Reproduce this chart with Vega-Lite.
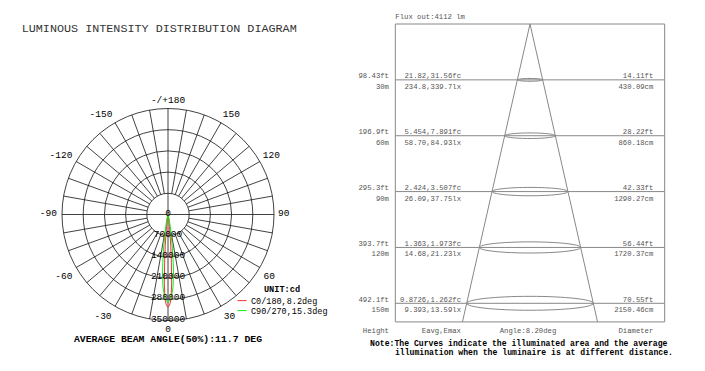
{
  "$schema": "https://vega.github.io/schema/vega-lite/v6.json",
  "width": 705,
  "height": 371,
  "padding": 0,
  "autosize": {"type": "none"},
  "background": "white",
  "config": {
    "view": {"stroke": null},
    "axis": {"disable": true},
    "text": {"font": "Liberation Mono"}
  },
  "datasets": {
    "spokes": [
      {"x1": 12155, "y1": -68937, "x2": 60777, "y2": -344683},
      {"x1": 23941, "y1": -65779, "x2": 119707, "y2": -328893},
      {"x1": 35000, "y1": -60622, "x2": 175000, "y2": -303109},
      {"x1": 44995, "y1": -53623, "x2": 224976, "y2": -268115},
      {"x1": 53623, "y1": -44995, "x2": 268115, "y2": -224976},
      {"x1": 60622, "y1": -35000, "x2": 303109, "y2": -175000},
      {"x1": 65779, "y1": -23941, "x2": 328893, "y2": -119707},
      {"x1": 68937, "y1": -12155, "x2": 344683, "y2": -60777},
      {"x1": 68937, "y1": 12155, "x2": 344683, "y2": 60777},
      {"x1": 65779, "y1": 23941, "x2": 328893, "y2": 119707},
      {"x1": 60622, "y1": 35000, "x2": 303109, "y2": 175000},
      {"x1": 53623, "y1": 44995, "x2": 268115, "y2": 224976},
      {"x1": 44995, "y1": 53623, "x2": 224976, "y2": 268115},
      {"x1": 35000, "y1": 60622, "x2": 175000, "y2": 303109},
      {"x1": 23941, "y1": 65779, "x2": 119707, "y2": 328893},
      {"x1": 12155, "y1": 68937, "x2": 60777, "y2": 344683},
      {"x1": -12155, "y1": -68937, "x2": -60777, "y2": -344683},
      {"x1": -23941, "y1": -65779, "x2": -119707, "y2": -328893},
      {"x1": -35000, "y1": -60622, "x2": -175000, "y2": -303109},
      {"x1": -44995, "y1": -53623, "x2": -224976, "y2": -268115},
      {"x1": -53623, "y1": -44995, "x2": -268115, "y2": -224976},
      {"x1": -60622, "y1": -35000, "x2": -303109, "y2": -175000},
      {"x1": -65779, "y1": -23941, "x2": -328893, "y2": -119707},
      {"x1": -68937, "y1": -12155, "x2": -344683, "y2": -60777},
      {"x1": -68937, "y1": 12155, "x2": -344683, "y2": 60777},
      {"x1": -65779, "y1": 23941, "x2": -328893, "y2": 119707},
      {"x1": -60622, "y1": 35000, "x2": -303109, "y2": 175000},
      {"x1": -53623, "y1": 44995, "x2": -268115, "y2": 224976},
      {"x1": -44995, "y1": 53623, "x2": -224976, "y2": 268115},
      {"x1": -35000, "y1": 60622, "x2": -175000, "y2": 303109},
      {"x1": -23941, "y1": 65779, "x2": -119707, "y2": 328893},
      {"x1": -12155, "y1": 68937, "x2": -60777, "y2": 344683},
      {"x1": -350000, "y1": 0, "x2": 350000, "y2": 0},
      {"x1": 0, "y1": -350000, "x2": 0, "y2": 350000}
    ],
    "rings": [{"r": 70000}, {"r": 140000}, {"r": 210000}, {"r": 280000}, {"r": 350000}],
    "lobes": [
      {"c": "C0/180,8.2deg", "o": 0, "x": 0, "y": 0},
      {"c": "C0/180,8.2deg", "o": 1, "x": -150, "y": -260},
      {"c": "C0/180,8.2deg", "o": 2, "x": -342, "y": -940},
      {"c": "C0/180,8.2deg", "o": 3, "x": -776, "y": -2898},
      {"c": "C0/180,8.2deg", "o": 4, "x": -1247, "y": -5869},
      {"c": "C0/180,8.2deg", "o": 5, "x": -2084, "y": -11818},
      {"c": "C0/180,8.2deg", "o": 6, "x": -3479, "y": -24757},
      {"c": "C0/180,8.2deg", "o": 7, "x": -4875, "y": -39702},
      {"c": "C0/180,8.2deg", "o": 8, "x": -6794, "y": -64644},
      {"c": "C0/180,8.2deg", "o": 9, "x": -9151, "y": -104600},
      {"c": "C0/180,8.2deg", "o": 10, "x": -11161, "y": -159610},
      {"c": "C0/180,8.2deg", "o": 11, "x": -12037, "y": -229685},
      {"c": "C0/180,8.2deg", "o": 12, "x": -9772, "y": -279829},
      {"c": "C0/180,8.2deg", "o": 13, "x": -5236, "y": -299955},
      {"c": "C0/180,8.2deg", "o": 14, "x": 0, "y": -306000},
      {"c": "C0/180,8.2deg", "o": 15, "x": 5236, "y": -299955},
      {"c": "C0/180,8.2deg", "o": 16, "x": 9772, "y": -279829},
      {"c": "C0/180,8.2deg", "o": 17, "x": 12037, "y": -229685},
      {"c": "C0/180,8.2deg", "o": 18, "x": 11161, "y": -159610},
      {"c": "C0/180,8.2deg", "o": 19, "x": 9151, "y": -104600},
      {"c": "C0/180,8.2deg", "o": 20, "x": 6794, "y": -64644},
      {"c": "C0/180,8.2deg", "o": 21, "x": 4875, "y": -39702},
      {"c": "C0/180,8.2deg", "o": 22, "x": 3479, "y": -24757},
      {"c": "C0/180,8.2deg", "o": 23, "x": 2084, "y": -11818},
      {"c": "C0/180,8.2deg", "o": 24, "x": 1247, "y": -5869},
      {"c": "C0/180,8.2deg", "o": 25, "x": 776, "y": -2898},
      {"c": "C0/180,8.2deg", "o": 26, "x": 342, "y": -940},
      {"c": "C0/180,8.2deg", "o": 27, "x": 150, "y": -260},
      {"c": "C0/180,8.2deg", "o": 28, "x": 0, "y": 0},
      {"c": "C90/270,15.3deg", "o": 0, "x": 0, "y": 0},
      {"c": "C90/270,15.3deg", "o": 1, "x": -423, "y": -906},
      {"c": "C90/270,15.3deg", "o": 2, "x": -1236, "y": -3804},
      {"c": "C90/270,15.3deg", "o": 3, "x": -2903, "y": -11644},
      {"c": "C90/270,15.3deg", "o": 4, "x": -6678, "y": -34357},
      {"c": "C90/270,15.3deg", "o": 5, "x": -10950, "y": -69138},
      {"c": "C90/270,15.3deg", "o": 6, "x": -15843, "y": -129031},
      {"c": "C90/270,15.3deg", "o": 7, "x": -18211, "y": -189125},
      {"c": "C90/270,15.3deg", "o": 8, "x": -16741, "y": -239414},
      {"c": "C90/270,15.3deg", "o": 9, "x": -9772, "y": -279829},
      {"c": "C90/270,15.3deg", "o": 10, "x": 0, "y": -290000},
      {"c": "C90/270,15.3deg", "o": 11, "x": 9772, "y": -279829},
      {"c": "C90/270,15.3deg", "o": 12, "x": 16741, "y": -239414},
      {"c": "C90/270,15.3deg", "o": 13, "x": 18211, "y": -189125},
      {"c": "C90/270,15.3deg", "o": 14, "x": 15843, "y": -129031},
      {"c": "C90/270,15.3deg", "o": 15, "x": 10950, "y": -69138},
      {"c": "C90/270,15.3deg", "o": 16, "x": 6678, "y": -34357},
      {"c": "C90/270,15.3deg", "o": 17, "x": 2903, "y": -11644},
      {"c": "C90/270,15.3deg", "o": 18, "x": 1236, "y": -3804},
      {"c": "C90/270,15.3deg", "o": 19, "x": 423, "y": -906},
      {"c": "C90/270,15.3deg", "o": 20, "x": 0, "y": 0}
    ],
    "angleLabels": [
      {"lab": "-/+180", "x": 0, "y": 378000},
      {"lab": "150", "x": 209000, "y": 330800},
      {"lab": "120", "x": 341100, "y": 196500},
      {"lab": "90", "x": 382400, "y": 5900},
      {"lab": "60", "x": 334500, "y": -203100},
      {"lab": "30", "x": 203100, "y": -335100},
      {"lab": "0", "x": 0, "y": -378000},
      {"lab": "-30", "x": -214600, "y": -335100},
      {"lab": "-60", "x": -344000, "y": -203100},
      {"lab": "-90", "x": -395200, "y": 5900},
      {"lab": "-120", "x": -353300, "y": 196500},
      {"lab": "-150", "x": -221200, "y": 330800}
    ],
    "radialLabels": [
      {"lab": "0", "y": 0}, {"lab": "70000", "y": -70000}, {"lab": "140000", "y": -140000},
      {"lab": "210000", "y": -210000}, {"lab": "280000", "y": -280000}, {"lab": "350000", "y": -350000}
    ],
    "rows": [
      {"h": 30, "ft": "98.43ft", "m": "30m", "fc": "21.82,31.56fc", "lx": "234.8,339.7lx", "dft": "14.11ft", "dcm": "430.09cm", "d": 430.09},
      {"h": 60, "ft": "196.9ft", "m": "60m", "fc": "5.454,7.891fc", "lx": "58.70,84.93lx", "dft": "28.22ft", "dcm": "860.18cm", "d": 860.18},
      {"h": 90, "ft": "295.3ft", "m": "90m", "fc": "2.424,3.507fc", "lx": "26.09,37.75lx", "dft": "42.33ft", "dcm": "1290.27cm", "d": 1290.27},
      {"h": 120, "ft": "393.7ft", "m": "120m", "fc": "1.363,1.973fc", "lx": "14.68,21.23lx", "dft": "56.44ft", "dcm": "1720.37cm", "d": 1720.37},
      {"h": 150, "ft": "492.1ft", "m": "150m", "fc": "0.8726,1.262fc", "lx": "9.393,13.59lx", "dft": "70.55ft", "dcm": "2150.46cm", "d": 2150.46}
    ],
    "cone": [{"sx": 0, "sy": 0, "ex": -11.47, "ey": 160}, {"sx": 0, "sy": 0, "ex": 11.47, "ey": 160}],
    "hlines": [
      {"h": 30, "l": -22.87, "r": 22.87}, {"h": 60, "l": -22.87, "r": 22.87},
      {"h": 90, "l": -22.87, "r": 22.87}, {"h": 120, "l": -22.87, "r": 22.87},
      {"h": 150, "l": -22.87, "r": 22.87}
    ]
  },
  "layer": [
    {
      "layer": [
        {
          "data": {"name": "spokes"},
          "mark": {"type": "rule", "stroke": "#111", "strokeWidth": 0.8},
          "encoding": {
            "x": {"field": "x1", "type": "quantitative", "scale": {"domain": [-554717, 1773113], "nice": false, "zero": false}},
            "x2": {"field": "x2"},
            "y": {"field": "y1", "type": "quantitative", "scale": {"domain": [-516745, 708255], "nice": false, "zero": false}},
            "y2": {"field": "y2"}
          }
        },
        {
          "data": {"name": "rings"},
          "mark": {"type": "point", "shape": "circle", "filled": false, "opacity": 1, "stroke": "#111", "strokeWidth": 0.8},
          "encoding": {
            "x": {"datum": 0, "type": "quantitative", "scale": {"domain": [-554717, 1773113], "nice": false, "zero": false}},
            "y": {"datum": 0, "type": "quantitative", "scale": {"domain": [-516745, 708255], "nice": false, "zero": false}},
            "size": {"field": "r", "type": "quantitative", "legend": null, "scale": {"type": "pow", "exponent": 2, "domain": [0, 350000], "range": [0, 44944]}}
          }
        },
        {
          "data": {"name": "lobes"},
          "mark": {"type": "line", "strokeWidth": 1},
          "encoding": {
            "x": {"field": "x", "type": "quantitative", "scale": {"domain": [-554717, 1773113], "nice": false, "zero": false}},
            "y": {"field": "y", "type": "quantitative", "scale": {"domain": [-516745, 708255], "nice": false, "zero": false}},
            "order": {"field": "o", "type": "quantitative"},
            "color": {
              "field": "c",
              "type": "nominal",
              "scale": {"domain": ["C0/180,8.2deg", "C90/270,15.3deg"], "range": ["#ff3030", "#10ee10"]},
              "legend": {
                "orient": "none",
                "legendX": 237,
                "legendY": 285,
                "padding": 0,
                "title": "UNIT:cd",
                "titleFont": "Liberation Mono",
                "titleFontSize": 8.6,
                "titleFontWeight": "bold",
                "titleColor": "#000",
                "titleAnchor": "middle",
                "titlePadding": 2,
                "labelFont": "Liberation Mono",
                "labelFontSize": 8.5,
                "labelColor": "#000",
                "labelOffset": 4,
                "symbolType": "stroke",
                "symbolSize": 81,
                "symbolStrokeWidth": 1,
                "rowPadding": 0
              }
            }
          }
        },
        {
          "data": {"name": "angleLabels"},
          "mark": {"type": "text", "fontSize": 9.5, "color": "#000", "align": "center", "baseline": "middle"},
          "encoding": {
            "x": {"field": "x", "type": "quantitative", "scale": {"domain": [-554717, 1773113], "nice": false, "zero": false}},
            "y": {"field": "y", "type": "quantitative", "scale": {"domain": [-516745, 708255], "nice": false, "zero": false}},
            "text": {"field": "lab"}
          }
        },
        {
          "data": {"name": "radialLabels"},
          "mark": {"type": "text", "fontSize": 9.5, "color": "#000", "align": "center", "baseline": "middle", "dy": -2},
          "encoding": {
            "x": {"datum": 0, "type": "quantitative", "scale": {"domain": [-554717, 1773113], "nice": false, "zero": false}},
            "y": {"field": "y", "type": "quantitative", "scale": {"domain": [-516745, 708255], "nice": false, "zero": false}},
            "text": {"field": "lab"}
          }
        },
        {
          "data": {"values": [{"t": "LUMINOUS INTENSITY DISTRIBUTION DIAGRAM"}]},
          "mark": {"type": "text", "fontSize": 11.75, "color": "#333", "align": "left", "baseline": "middle"},
          "encoding": {
            "x": {"datum": -483066, "type": "quantitative", "scale": {"domain": [-554717, 1773113], "nice": false, "zero": false}},
            "y": {"datum": 615802, "type": "quantitative", "scale": {"domain": [-516745, 708255], "nice": false, "zero": false}},
            "text": {"field": "t"}
          }
        },
        {
          "data": {"values": [{"t": "AVERAGE BEAM ANGLE(50%):11.7 DEG"}]},
          "mark": {"type": "text", "fontSize": 9.8, "fontWeight": "bold", "color": "#000", "align": "center", "baseline": "middle"},
          "encoding": {
            "x": {"datum": 0, "type": "quantitative", "scale": {"domain": [-554717, 1773113], "nice": false, "zero": false}},
            "y": {"datum": -412000, "type": "quantitative", "scale": {"domain": [-516745, 708255], "nice": false, "zero": false}},
            "text": {"field": "t"}
          }
        }
      ]
    },
    {
      "layer": [
        {
          "data": {"values": [{"left": -22.87, "right": 22.87, "top": 0, "bottom": 160}]},
          "mark": {"type": "rect", "filled": false, "stroke": "#888", "strokeWidth": 1},
          "encoding": {
            "x": {"field": "left", "type": "quantitative", "scale": {"domain": [-90.01, 29.72], "nice": false, "zero": false}},
            "x2": {"field": "right"},
            "y": {"field": "top", "type": "quantitative", "scale": {"domain": [-12.89, 186.36], "reverse": true, "nice": false, "zero": false}},
            "y2": {"field": "bottom"}
          }
        },
        {
          "data": {"name": "hlines"},
          "mark": {"type": "rule", "stroke": "#888", "strokeWidth": 1},
          "encoding": {
            "x": {"field": "l", "type": "quantitative", "scale": {"domain": [-90.01, 29.72], "nice": false, "zero": false}},
            "x2": {"field": "r"},
            "y": {"field": "h", "type": "quantitative", "scale": {"domain": [-12.89, 186.36], "reverse": true, "nice": false, "zero": false}},
            "y2": {"field": "h"}
          }
        },
        {
          "data": {"name": "cone"},
          "mark": {"type": "rule", "stroke": "#888", "strokeWidth": 1},
          "encoding": {
            "x": {"field": "sx", "type": "quantitative", "scale": {"domain": [-90.01, 29.72], "nice": false, "zero": false}},
            "x2": {"field": "ex"},
            "y": {"field": "sy", "type": "quantitative", "scale": {"domain": [-12.89, 186.36], "reverse": true, "nice": false, "zero": false}},
            "y2": {"field": "ey"}
          }
        },
        {
          "data": {"name": "rows"},
          "mark": {
            "type": "point",
            "filled": false,
            "opacity": 1,
            "stroke": "#888",
            "strokeWidth": 1,
            "shape": "M-1,0C-1,-0.0608,-0.5523,-0.11,0,-0.11C0.5523,-0.11,1,-0.0608,1,0C1,0.0608,0.5523,0.11,0,0.11C-0.5523,0.11,-1,0.0608,-1,0Z"
          },
          "encoding": {
            "x": {"datum": 0, "type": "quantitative", "scale": {"domain": [-90.01, 29.72], "nice": false, "zero": false}},
            "y": {"field": "h", "type": "quantitative", "scale": {"domain": [-12.89, 186.36], "reverse": true, "nice": false, "zero": false}},
            "size": {"field": "d", "type": "quantitative", "legend": null, "scale": {"type": "pow", "exponent": 2, "domain": [0, 2150.46], "range": [0, 16033]}}
          }
        },
        {
          "data": {"name": "rows"},
          "mark": {"type": "text", "fontSize": 7.25, "color": "#555", "align": "right", "baseline": "middle", "dy": -3.5},
          "encoding": {
            "x": {"datum": -23.95, "type": "quantitative", "scale": {"domain": [-90.01, 29.72], "nice": false, "zero": false}},
            "y": {"field": "h", "type": "quantitative", "scale": {"domain": [-12.89, 186.36], "reverse": true, "nice": false, "zero": false}},
            "text": {"field": "ft"}
          }
        },
        {
          "data": {"name": "rows"},
          "mark": {"type": "text", "fontSize": 7.25, "color": "#555", "align": "right", "baseline": "middle", "dy": 7},
          "encoding": {
            "x": {"datum": -23.95, "type": "quantitative", "scale": {"domain": [-90.01, 29.72], "nice": false, "zero": false}},
            "y": {"field": "h", "type": "quantitative", "scale": {"domain": [-12.89, 186.36], "reverse": true, "nice": false, "zero": false}},
            "text": {"field": "m"}
          }
        },
        {
          "data": {"name": "rows"},
          "mark": {"type": "text", "fontSize": 7.25, "color": "#555", "align": "right", "baseline": "middle", "dy": -3.5},
          "encoding": {
            "x": {"datum": -11.72, "type": "quantitative", "scale": {"domain": [-90.01, 29.72], "nice": false, "zero": false}},
            "y": {"field": "h", "type": "quantitative", "scale": {"domain": [-12.89, 186.36], "reverse": true, "nice": false, "zero": false}},
            "text": {"field": "fc"}
          }
        },
        {
          "data": {"name": "rows"},
          "mark": {"type": "text", "fontSize": 7.25, "color": "#555", "align": "right", "baseline": "middle", "dy": 7},
          "encoding": {
            "x": {"datum": -11.72, "type": "quantitative", "scale": {"domain": [-90.01, 29.72], "nice": false, "zero": false}},
            "y": {"field": "h", "type": "quantitative", "scale": {"domain": [-12.89, 186.36], "reverse": true, "nice": false, "zero": false}},
            "text": {"field": "lx"}
          }
        },
        {
          "data": {"name": "rows"},
          "mark": {"type": "text", "fontSize": 7.25, "color": "#555", "align": "right", "baseline": "middle", "dy": -3.5},
          "encoding": {
            "x": {"datum": 20.94, "type": "quantitative", "scale": {"domain": [-90.01, 29.72], "nice": false, "zero": false}},
            "y": {"field": "h", "type": "quantitative", "scale": {"domain": [-12.89, 186.36], "reverse": true, "nice": false, "zero": false}},
            "text": {"field": "dft"}
          }
        },
        {
          "data": {"name": "rows"},
          "mark": {"type": "text", "fontSize": 7.25, "color": "#555", "align": "right", "baseline": "middle", "dy": 7},
          "encoding": {
            "x": {"datum": 20.94, "type": "quantitative", "scale": {"domain": [-90.01, 29.72], "nice": false, "zero": false}},
            "y": {"field": "h", "type": "quantitative", "scale": {"domain": [-12.89, 186.36], "reverse": true, "nice": false, "zero": false}},
            "text": {"field": "dcm"}
          }
        },
        {
          "data": {"values": [{"t": "Height"}]},
          "mark": {"type": "text", "fontSize": 7.25, "color": "#555", "align": "right", "baseline": "middle"},
          "encoding": {
            "x": {"datum": -23.95, "type": "quantitative", "scale": {"domain": [-90.01, 29.72], "nice": false, "zero": false}},
            "y": {"datum": 165, "type": "quantitative", "scale": {"domain": [-12.89, 186.36], "reverse": true, "nice": false, "zero": false}},
            "text": {"field": "t"}
          }
        },
        {
          "data": {"values": [{"t": "Eavg,Emax"}]},
          "mark": {"type": "text", "fontSize": 7.25, "color": "#555", "align": "right", "baseline": "middle"},
          "encoding": {
            "x": {"datum": -11.72, "type": "quantitative", "scale": {"domain": [-90.01, 29.72], "nice": false, "zero": false}},
            "y": {"datum": 165, "type": "quantitative", "scale": {"domain": [-12.89, 186.36], "reverse": true, "nice": false, "zero": false}},
            "text": {"field": "t"}
          }
        },
        {
          "data": {"values": [{"t": "Angle:8.20deg"}]},
          "mark": {"type": "text", "fontSize": 7.25, "color": "#555", "align": "center", "baseline": "middle"},
          "encoding": {
            "x": {"datum": -0.34, "type": "quantitative", "scale": {"domain": [-90.01, 29.72], "nice": false, "zero": false}},
            "y": {"datum": 165, "type": "quantitative", "scale": {"domain": [-12.89, 186.36], "reverse": true, "nice": false, "zero": false}},
            "text": {"field": "t"}
          }
        },
        {
          "data": {"values": [{"t": "Diameter"}]},
          "mark": {"type": "text", "fontSize": 7.25, "color": "#555", "align": "right", "baseline": "middle"},
          "encoding": {
            "x": {"datum": 20.94, "type": "quantitative", "scale": {"domain": [-90.01, 29.72], "nice": false, "zero": false}},
            "y": {"datum": 165, "type": "quantitative", "scale": {"domain": [-12.89, 186.36], "reverse": true, "nice": false, "zero": false}},
            "text": {"field": "t"}
          }
        },
        {
          "data": {"values": [{"t": "Flux out:4112 lm"}]},
          "mark": {"type": "text", "fontSize": 7.25, "color": "#555", "align": "left", "baseline": "middle"},
          "encoding": {
            "x": {"datum": -22.87, "type": "quantitative", "scale": {"domain": [-90.01, 29.72], "nice": false, "zero": false}},
            "y": {"datum": -3.6, "type": "quantitative", "scale": {"domain": [-12.89, 186.36], "reverse": true, "nice": false, "zero": false}},
            "text": {"field": "t"}
          }
        },
        {
          "data": {"values": [{"t": "Note:The Curves indicate the illuminated area and the average"}]},
          "mark": {"type": "text", "fontSize": 8.15, "fontWeight": "bold", "color": "#000", "align": "left", "baseline": "middle"},
          "encoding": {
            "x": {"datum": -27.17, "type": "quantitative", "scale": {"domain": [-90.01, 29.72], "nice": false, "zero": false}},
            "y": {"datum": 171.86, "type": "quantitative", "scale": {"domain": [-12.89, 186.36], "reverse": true, "nice": false, "zero": false}},
            "text": {"field": "t"}
          }
        },
        {
          "data": {"values": [{"t": "illumination when the luminaire is at different distance."}]},
          "mark": {"type": "text", "fontSize": 8.15, "fontWeight": "bold", "color": "#000", "align": "left", "baseline": "middle"},
          "encoding": {
            "x": {"datum": -22.93, "type": "quantitative", "scale": {"domain": [-90.01, 29.72], "nice": false, "zero": false}},
            "y": {"datum": 176.69, "type": "quantitative", "scale": {"domain": [-12.89, 186.36], "reverse": true, "nice": false, "zero": false}},
            "text": {"field": "t"}
          }
        }
      ]
    }
  ],
  "resolve": {"scale": {"x": "independent", "y": "independent", "size": "independent"}}
}
